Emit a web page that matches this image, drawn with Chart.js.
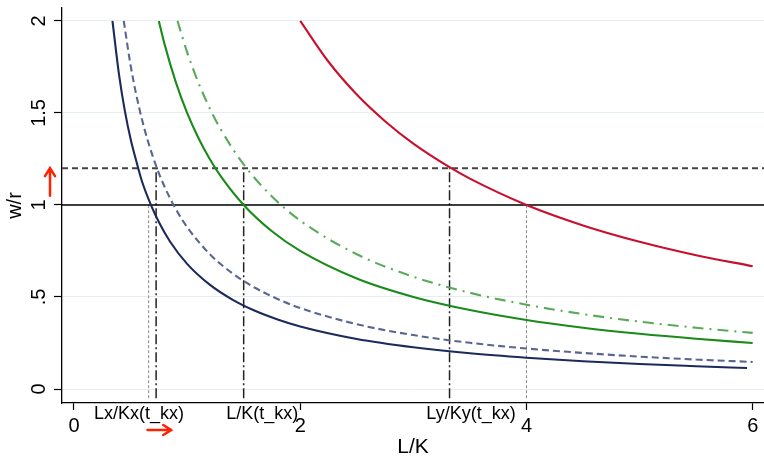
<!DOCTYPE html>
<html><head><meta charset="utf-8">
<script src="https://cdn.jsdelivr.net/npm/chart.js@4"></script>
<style>html,body{margin:0;padding:0;background:#fff}#wrap{width:764px;height:457px}</style>
</head><body><div id="wrap"><canvas id="c" width="764" height="457"></canvas></div>
<script>
// ---- data ----
const navyX  = [0.34,0.4,0.45,0.5,0.55,0.6,0.68,0.75,0.85,1,1.2,1.4,1.6,1.8,2,2.5,3,3.5,4,4.5,5,5.5,5.95];
const navyY  = [2.0,1.70,1.51,1.36,1.24,1.13,1.0,0.907,0.80,0.68,0.567,0.486,0.425,0.378,0.34,0.272,0.227,0.194,0.17,0.151,0.136,0.124,0.114];
const navyDX = [0.44,0.5,0.55,0.6,0.65,0.73,0.8,0.9,1,1.2,1.4,1.6,1.8,2,2.5,3,3.5,4,4.5,5,5.5,6];
const navyDY = [2.0,1.76,1.6,1.467,1.354,1.205,1.1,0.978,0.88,0.733,0.629,0.55,0.489,0.44,0.352,0.293,0.251,0.22,0.196,0.176,0.16,0.147];
const greenX = [0.75,0.8,0.9,1,1.1,1.2,1.3,1.5,1.75,2,2.5,3,3.5,4,4.5,5,5.5,6];
const greenY = [2.0,1.875,1.667,1.5,1.364,1.25,1.154,1.0,0.857,0.75,0.6,0.5,0.429,0.375,0.333,0.3,0.273,0.25];
const greenDX = [0.915,1,1.1,1.2,1.3,1.5,1.75,2,2.5,3,3.5,4,4.5,5,5.5,6];
const greenDY = [2.0,1.83,1.664,1.525,1.408,1.22,1.046,0.915,0.732,0.61,0.523,0.458,0.407,0.366,0.333,0.305];
const redX = [2,2.25,2.5,2.75,3,3.32,3.5,4,4.5,5,5.5,6];
const redY = [2.0,1.778,1.6,1.455,1.333,1.205,1.143,1.0,0.889,0.8,0.727,0.667];

const hLineY = [1, 1.2];
const vLineX = [0.66, 0.726, 1.5, 3.32, 4.0];
const vLineTop = [1, 1.2, 1.2, 1.2, 1];

const xTicks = [0, 2, 4, 6];
const xTickLabels = ['0', '2', '4', '6'];
const yTicks = [0, 0.5, 1, 1.5, 2];
const yTickLabels = ['0', '.5', '1', '1.5', '2'];
const markerLabels = ['Lx/Kx(t_kx)', 'L/K(t_kx)', 'Ly/Ky(t_kx)'];
const markerLabelX = [0.574, 1.665, 3.51];
const arrowUpY = [1.05, 1.2];
const arrowRightX = [0.65, 0.86];

// ---- build ----
const X_MIN = -0.106, X_MAX = 6.1, Y_MIN = -0.076, Y_MAX = 2.07;
const pts = (xs, ys) => xs.map((x, i) => ({x, y: ys[i]}));
const curve = (xs, ys, color, dash) => ({
  data: pts(xs, ys), borderColor: color, borderWidth: 2.1, borderDash: dash || [],
  showLine: true, pointRadius: 0, cubicInterpolationMode: 'monotone', fill: false
});
const seg = (a, b, color, w, dash) => ({
  data: [a, b], borderColor: color, borderWidth: w, borderDash: dash, showLine: true, pointRadius: 0, fill: false
});

const datasets = [
  curve(redX, redY, '#c8102e'),
  curve(greenX, greenY, '#1a8a1a'),
  curve(greenDX, greenDY, '#5aaa5a', [11, 6, 2, 6]),
  curve(navyX, navyY, '#1b2a5a'),
  curve(navyDX, navyDY, '#5a6690', [7, 4]),
];
hLineY.forEach((y, i) => datasets.push(seg({x: X_MIN, y}, {x: X_MAX + 0.2, y},
  i === 0 ? '#000' : '#444', i === 0 ? 1.5 : 2, i === 0 ? [] : [6, 4])));
vLineX.forEach((x, i) => {
  const dotted = vLineTop[i] === 1;
  datasets.push(seg({x, y: -0.05}, {x, y: vLineTop[i]},
    dotted ? '#8a8a8a' : '#222', dotted ? 1 : 1.5, dotted ? [3, 2] : [10, 3, 2, 3]));
});

const extras = {
  id: 'extras',
  afterDraw(chart) {
    const ctx = chart.ctx, xs = chart.scales.x, ys = chart.scales.y, ca = chart.chartArea;
    ctx.save();
    ctx.fillStyle = '#000';
    // rotated y tick labels
    ctx.font = '20px "Liberation Sans", Arial, sans-serif';
    ctx.textAlign = 'center';
    ctx.textBaseline = 'alphabetic';
    yTicks.forEach((v, i) => {
      ctx.save();
      ctx.translate(ca.left - 17, ys.getPixelForValue(v));
      ctx.rotate(-Math.PI / 2);
      ctx.fillText(yTickLabels[i], 0, 0);
      ctx.restore();
    });
    // marker labels under the x axis
    ctx.font = '18px "Liberation Sans", Arial, sans-serif';
    ctx.textBaseline = 'middle';
    markerLabels.forEach((t, i) => {
      ctx.fillText(t, xs.getPixelForValue(markerLabelX[i]), ca.bottom + 11);
    });
    // red arrows
    ctx.strokeStyle = '#ff2200';
    ctx.lineWidth = 2.5;
    ctx.lineCap = 'round';
    const ax = ca.left - 12, y0 = ys.getPixelForValue(arrowUpY[0]), y1 = ys.getPixelForValue(arrowUpY[1]);
    ctx.beginPath();
    ctx.moveTo(ax, y0); ctx.lineTo(ax, y1);
    ctx.moveTo(ax - 5, y1 + 8); ctx.lineTo(ax, y1); ctx.lineTo(ax + 5, y1 + 8);
    ctx.stroke();
    const ay = ca.bottom + 27, x0 = xs.getPixelForValue(arrowRightX[0]), x1 = xs.getPixelForValue(arrowRightX[1]);
    ctx.beginPath();
    ctx.moveTo(x0, ay); ctx.lineTo(x1, ay);
    ctx.moveTo(x1 - 8, ay - 5); ctx.lineTo(x1, ay); ctx.lineTo(x1 - 8, ay + 5);
    ctx.stroke();
    ctx.restore();
  }
};

Chart.defaults.font.family = '"Liberation Sans", Arial, sans-serif';
Chart.defaults.color = '#000';

new Chart(document.getElementById('c'), {
  type: 'scatter',
  data: {datasets},
  options: {
    responsive: false,
    animation: false,
    devicePixelRatio: 1,
    layout: {padding: {left: 0, right: 0, top: 8, bottom: 0}},
    plugins: {legend: {display: false}, tooltip: {enabled: false}},
    scales: {
      x: {
        type: 'linear', min: X_MIN, max: X_MAX,
        afterBuildTicks: s => { s.ticks = xTicks.map(v => ({value: v})); },
        afterFit: s => { s.height = 54; },
        ticks: {callback: (v, i) => xTickLabels[i], font: {size: 20}, color: '#000', padding: 4, maxRotation: 0, autoSkip: false},
        grid: {drawOnChartArea: false, drawTicks: true, tickLength: 7, tickColor: '#000', tickWidth: 1.2},
        border: {display: true, color: '#000', width: 1.3},
        title: {display: true, text: 'L/K', color: '#000', font: {size: 21, lineHeight: 1}, padding: {top: 0, bottom: -1}}
      },
      y: {
        type: 'linear', min: Y_MIN, max: Y_MAX,
        afterBuildTicks: s => { s.ticks = yTicks.map(v => ({value: v})); },
        afterFit: s => { s.width = 62; },
        ticks: {display: false},
        grid: {color: '#e4eef1', lineWidth: 1, drawTicks: true, tickLength: 8, tickColor: '#000', tickWidth: 1.2},
        border: {display: true, color: '#000', width: 1.3},
        title: {display: true, text: 'w/r', color: '#000', font: {size: 20, lineHeight: 1}, padding: {top: 5, bottom: 0}}
      }
    }
  },
  plugins: [extras]
});
</script>
</body></html>
